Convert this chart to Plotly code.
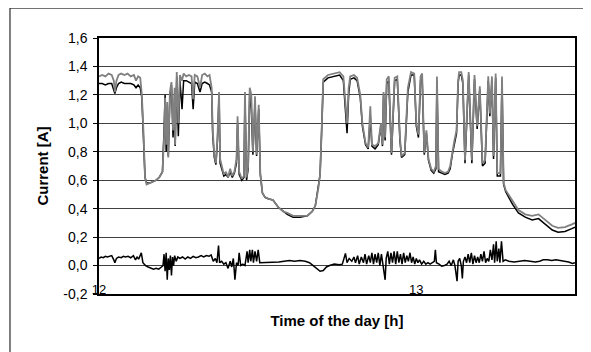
import plotly.graph_objects as go

# time in minutes after 12:00
t_main = [0.0, 0.6, 1.2, 1.8, 2.4, 2.8, 3.0, 3.3, 3.7, 4.2, 4.8, 5.4, 6.0, 6.6, 7.0, 7.4, 7.8, 8.1, 8.4, 8.7,
          9.0, 9.6, 10.2, 10.8, 11.4, 11.9, 12.0, 12.3, 12.5, 12.7, 12.9, 13.1, 13.4, 13.7, 14.0, 14.3, 14.4, 14.7,
          15.0, 15.3, 15.7, 16.0, 16.5, 17.0, 17.5, 17.8, 18.1, 18.6, 19.1, 19.5, 20.0, 20.5, 20.9, 21.3, 21.5,
          21.8, 22.1, 22.4, 22.7, 22.9, 23.2, 23.6, 24.0, 24.4, 24.8, 25.2, 25.6, 26.0, 26.2, 26.5, 27.0, 27.4,
          27.6, 27.9, 28.2, 28.5, 28.8, 29.1, 29.5, 29.8, 30.2, 30.5, 30.9, 31.4, 32.0, 32.9, 33.9, 34.8, 35.6,
          36.7, 38.0, 39.4, 40.3, 40.9, 41.5, 41.8, 42.1, 42.4, 43.3, 44.5, 45.5, 46.2, 46.5, 46.9, 47.2, 47.5,
          48.2, 48.8, 49.4, 49.8, 50.4, 50.9, 51.3, 51.6, 52.2, 52.8, 53.3, 53.6, 53.8, 54.1, 54.4, 54.8, 55.3,
          55.9, 56.4, 56.9, 57.2, 57.8, 58.4, 59.0, 59.6, 60.0, 60.4, 60.8, 61.1, 61.5, 61.9, 62.3, 62.8, 63.3,
          63.7, 63.9, 64.2, 64.8, 65.4, 66.0, 66.4, 66.8, 67.2, 67.6, 67.9, 68.1, 68.5, 68.8, 69.2, 69.9, 70.5,
          71.0, 71.5, 72.0, 72.5, 73.0, 73.6, 73.9, 74.3, 74.6, 75.0, 75.3, 75.9, 76.2, 76.5, 76.9, 78.2, 79.3,
          80.6, 81.9, 83.1, 84.4, 85.7, 86.8, 88.1, 89.4, 90.0]

gray_current = [1.33, 1.34, 1.33, 1.35, 1.34, 1.30, 1.22, 1.30, 1.34, 1.35, 1.34, 1.35, 1.33, 1.34, 1.30, 1.33, 1.32, 1.20, 0.95, 0.62,
                0.57, 0.58, 0.59, 0.60, 0.62, 0.66, 0.66, 0.90, 1.18, 0.85, 1.15, 0.76, 1.22, 1.29, 0.95, 1.25, 0.85, 1.36,
                1.00, 1.34, 1.30, 1.35, 1.33, 1.34, 1.33, 1.17, 1.34, 1.33, 1.25, 1.34, 1.35, 1.33, 1.34, 1.25, 0.95,
                0.78, 0.72, 0.90, 1.22, 0.75, 0.70, 0.64, 0.66, 0.62, 0.68, 0.63, 0.66, 0.75, 1.05, 0.66, 0.61, 0.63,
                1.22, 0.62, 0.70, 1.25, 1.20, 0.80, 1.19, 0.78, 1.13, 0.65, 0.51, 0.48, 0.47, 0.46, 0.41, 0.38, 0.37,
                0.35, 0.35, 0.35, 0.38, 0.42, 0.55, 0.64, 0.95, 1.31, 1.34, 1.35, 1.36, 1.33, 1.20, 1.00, 1.25, 1.33,
                1.34, 1.32, 1.20, 1.00, 0.86, 0.83, 1.12, 0.85, 0.84, 0.86, 1.00, 0.85, 1.22, 0.90, 1.31, 1.33, 0.79,
                1.32, 1.33, 0.90, 0.77, 0.79, 1.25, 1.36, 1.35, 1.00, 0.92, 1.33, 1.35, 0.79, 0.95, 0.75, 0.68, 0.66,
                0.70, 1.33, 0.68, 0.66, 0.65, 0.66, 0.70, 0.80, 0.88, 0.95, 1.30, 1.36, 1.36, 1.30, 0.74, 1.36, 0.74,
                1.34, 0.98, 1.26, 0.72, 0.74, 1.33, 1.07, 1.33, 0.77, 1.35, 0.65, 0.65, 1.33, 0.58, 0.53, 0.45, 0.39,
                0.36, 0.35, 0.36, 0.32, 0.28, 0.265, 0.27, 0.29, 0.30]

black_current = [1.28, 1.28, 1.27, 1.28, 1.28, 1.24, 1.21, 1.25, 1.28, 1.29, 1.28, 1.28, 1.28, 1.27, 1.25, 1.27, 1.25, 1.18, 0.95, 0.62,
                 0.58, 0.58, 0.59, 0.60, 0.62, 0.66, 0.66, 0.95, 1.20, 0.80, 1.10, 0.77, 1.18, 1.27, 0.90, 1.20, 0.84, 1.33,
                 0.91, 1.30, 1.10, 1.30, 1.30, 1.29, 1.28, 1.10, 1.29, 1.28, 1.22, 1.28, 1.29, 1.28, 1.27, 1.22, 0.92,
                 0.76, 0.71, 0.88, 1.20, 0.72, 0.68, 0.63, 0.64, 0.62, 0.66, 0.62, 0.65, 0.72, 1.00, 0.64, 0.60, 0.62,
                 1.18, 0.60, 0.68, 1.22, 1.10, 0.78, 1.15, 0.77, 1.10, 0.64, 0.51, 0.48, 0.47, 0.46, 0.41, 0.38, 0.36,
                 0.34, 0.34, 0.35, 0.38, 0.42, 0.55, 0.64, 0.95, 1.29, 1.32, 1.33, 1.34, 1.30, 1.15, 0.93, 1.20, 1.31,
                 1.32, 1.30, 1.18, 0.98, 0.85, 0.82, 1.05, 0.84, 0.82, 0.85, 0.98, 0.84, 1.20, 0.88, 1.28, 1.30, 0.78,
                 1.30, 1.31, 0.88, 0.76, 0.78, 1.22, 1.34, 1.34, 0.98, 0.90, 1.30, 1.32, 0.78, 0.93, 0.74, 0.67, 0.65,
                 0.68, 1.30, 0.66, 0.65, 0.64, 0.65, 0.68, 0.78, 0.86, 0.93, 1.28, 1.34, 1.34, 1.28, 0.72, 1.34, 0.72,
                 1.31, 0.96, 1.24, 0.70, 0.72, 1.30, 1.05, 1.30, 0.75, 1.32, 0.63, 0.63, 1.30, 0.57, 0.52, 0.43, 0.37,
                 0.34, 0.32, 0.33, 0.29, 0.25, 0.235, 0.24, 0.26, 0.27]

t_diff = [0.0, 0.4, 0.8, 1.2, 1.6, 2.0, 2.4, 2.8, 3.0, 3.3, 3.7, 4.2, 4.6, 5.0, 5.5, 6.0, 6.5, 6.9, 7.2, 7.5, 8.0,
          8.3, 8.8, 9.3, 9.8, 10.3, 10.8, 11.3, 11.8, 12.1, 12.3, 12.5, 12.7, 12.9, 13.1, 13.3, 13.5, 13.7, 13.9,
          14.1, 14.3, 14.6, 14.9, 15.3, 15.8, 16.3, 16.8, 17.3, 17.8, 18.3, 18.8, 19.3, 19.8, 20.3, 20.8, 21.2,
          21.6, 22.0, 22.3, 22.6, 22.8, 23.2, 23.6, 24.0, 24.4, 24.8, 25.1, 25.4, 25.7, 26.0, 26.3, 26.5, 26.8,
          27.2, 27.6, 28.0, 28.2, 28.5, 28.7, 29.0, 29.2, 29.5, 29.8, 30.1, 30.4, 30.8, 31.5, 32.3, 33.1, 34.0,
          35.0, 36.0, 37.0, 38.0, 39.0, 39.8, 40.5, 41.2, 41.8, 42.4, 43.0, 43.6, 44.5, 45.4, 46.0, 46.6, 46.9,
          47.3, 47.8, 48.2, 48.5, 48.9, 49.2, 49.6, 50.0, 50.3, 50.6, 51.0, 51.3, 51.6, 51.9, 52.2, 52.5, 52.8,
          53.1, 53.4, 53.7, 54.1, 54.3, 54.6, 54.9, 55.2, 55.5, 55.8, 56.1, 56.4, 56.7, 57.0, 57.3, 57.6, 57.9,
          58.2, 58.5, 58.8, 59.1, 59.4, 59.7, 60.0, 60.3, 60.6, 61.0, 61.4, 61.8, 62.2, 62.6, 63.0, 63.4, 63.6,
          63.8, 64.3, 64.8, 65.3, 65.8, 66.2, 66.6, 67.0, 67.3, 67.7, 67.9, 68.2, 68.5, 68.7, 68.9, 69.2, 69.5,
          69.8, 70.1, 70.4, 70.7, 71.0, 71.3, 71.6, 71.9, 72.2, 72.5, 72.8, 73.1, 73.4, 73.7, 74.0, 74.3, 74.6,
          74.8, 75.1, 75.3, 75.6, 75.8, 76.1, 76.4, 76.8, 77.5, 78.5, 79.5, 80.5, 81.5, 82.5, 83.3, 84.0, 84.8,
          85.6, 86.4, 87.2, 88.0, 88.8, 89.5, 90.0]

diff_current = [0.05, 0.06, 0.055, 0.065, 0.06, 0.065, 0.07, 0.04, 0.02, 0.05, 0.06, 0.055, 0.065, 0.06, 0.065, 0.055, 0.07, 0.04, 0.06, 0.045, 0.09,
                0.02, 0.0, -0.01, -0.02, -0.025, -0.02, -0.025, -0.01, 0.0, 0.08, -0.04, 0.09, -0.10, 0.05, -0.03, 0.07, -0.07, 0.06,
                0.0, 0.07, 0.03, 0.06, 0.05, 0.06, 0.045, 0.06, 0.05, 0.065, 0.055, 0.06, 0.07, 0.06, 0.07, 0.065, 0.075,
                0.03, 0.05, 0.02, 0.14, 0.02, 0.03, 0.01, 0.02, -0.02, 0.03, -0.01, 0.05, -0.10, 0.02, 0.0, 0.09, 0.0,
                0.01, 0.0, 0.10, 0.02, 0.11, 0.03, 0.11, 0.02, 0.10, 0.03, 0.11, 0.02, 0.02, 0.02, 0.025, 0.02, 0.025,
                0.03, 0.035, 0.03, 0.035, 0.03, 0.02, 0.0, -0.02, -0.04, -0.035, -0.01, 0.0, 0.01, 0.005, 0.01, 0.085, 0.02,
                0.05, 0.03, 0.06, 0.02, 0.07, 0.01, 0.06, 0.02, 0.08, 0.01, 0.07, 0.02, 0.09, 0.01, 0.08, 0.02, 0.09,
                0.0, 0.08, 0.01, -0.10, 0.05, 0.10, 0.01, 0.09, 0.02, 0.10, 0.01, 0.10, 0.02, 0.08, 0.01, 0.09, 0.02,
                0.07, 0.03, 0.09, 0.02, 0.06, 0.01, 0.05, 0.02, 0.04, 0.01, 0.03, 0.01, 0.02, 0.01, 0.02, 0.03, 0.11,
                0.02, 0.01, -0.005, 0.0, 0.01, 0.03, 0.0, 0.04, 0.0, -0.11, 0.03, 0.05, 0.0, -0.09, 0.03, 0.06, 0.02,
                0.08, 0.02, 0.09, 0.01, 0.07, 0.02, 0.06, 0.02, 0.08, 0.03, 0.10, 0.02, 0.05, 0.03, 0.11, 0.04, 0.15,
                0.02, 0.17, 0.03, 0.12, 0.02, 0.17, 0.03, 0.04, 0.03, 0.025, 0.03, 0.035, 0.03, 0.025, 0.03, 0.04, 0.04,
                0.035, 0.04, 0.035, 0.03, 0.025, 0.015, 0.02]

x_tick_vals = [0, 60]
x_tick_text = ["12", "13"]
y_tick_vals = [-0.2, 0.0, 0.2, 0.4, 0.6, 0.8, 1.0, 1.2, 1.4, 1.6]
y_tick_text = ["-0,2", "0,0", "0,2", "0,4", "0,6", "0,8", "1,0", "1,2", "1,4", "1,6"]

FONT = "Liberation Sans, Arial, sans-serif"

fig = go.Figure()
fig.add_trace(go.Scatter(x=t_main, y=black_current, mode="lines",
                         line=dict(color="#000000", width=1.5), showlegend=False))
fig.add_trace(go.Scatter(x=t_main, y=gray_current, mode="lines",
                         line=dict(color="#808080", width=1.8), showlegend=False))
fig.add_trace(go.Scatter(x=t_diff, y=diff_current, mode="lines",
                         line=dict(color="#000000", width=1.5), showlegend=False))

# page body has an 8px margin, so the figure is drawn 8px in from the top-left corner
fig.update_layout(
    width=583, height=344,
    margin=dict(l=91, r=16, t=30, b=58),
    paper_bgcolor="white", plot_bgcolor="white",
    font=dict(family=FONT, size=12, color="#000000"),
    showlegend=False,
    shapes=[dict(type="rect", xref="paper", yref="paper", x0=-0.187, x1=1.2, y0=-0.4, y1=1.117,
                 line=dict(color="#000000", width=1), layer="below")],
)
fig.update_xaxes(
    range=[0, 90], tickvals=x_tick_vals, ticktext=x_tick_text,
    ticks="", ticklabelstandoff=-17, showgrid=False, zeroline=False,
    showline=True, linecolor="#000000", linewidth=1.5, mirror=True,
    tickfont=dict(size=13),
    title=dict(text="<b>Time of the day [h]</b>", font=dict(size=15), standoff=19),
)
fig.update_yaxes(
    range=[-0.2, 1.6], tickvals=y_tick_vals, ticktext=y_tick_text,
    ticks="outside", ticklen=4, tickcolor="#000000", ticklabelstandoff=3,
    showgrid=True, gridcolor="#404040", gridwidth=1, zeroline=False,
    showline=True, linecolor="#000000", linewidth=1.5, mirror=True,
    tickfont=dict(size=14),
    title=dict(text="<b>Current [A]</b>", font=dict(size=15), standoff=11),
)

fig.write_html("out.html")
